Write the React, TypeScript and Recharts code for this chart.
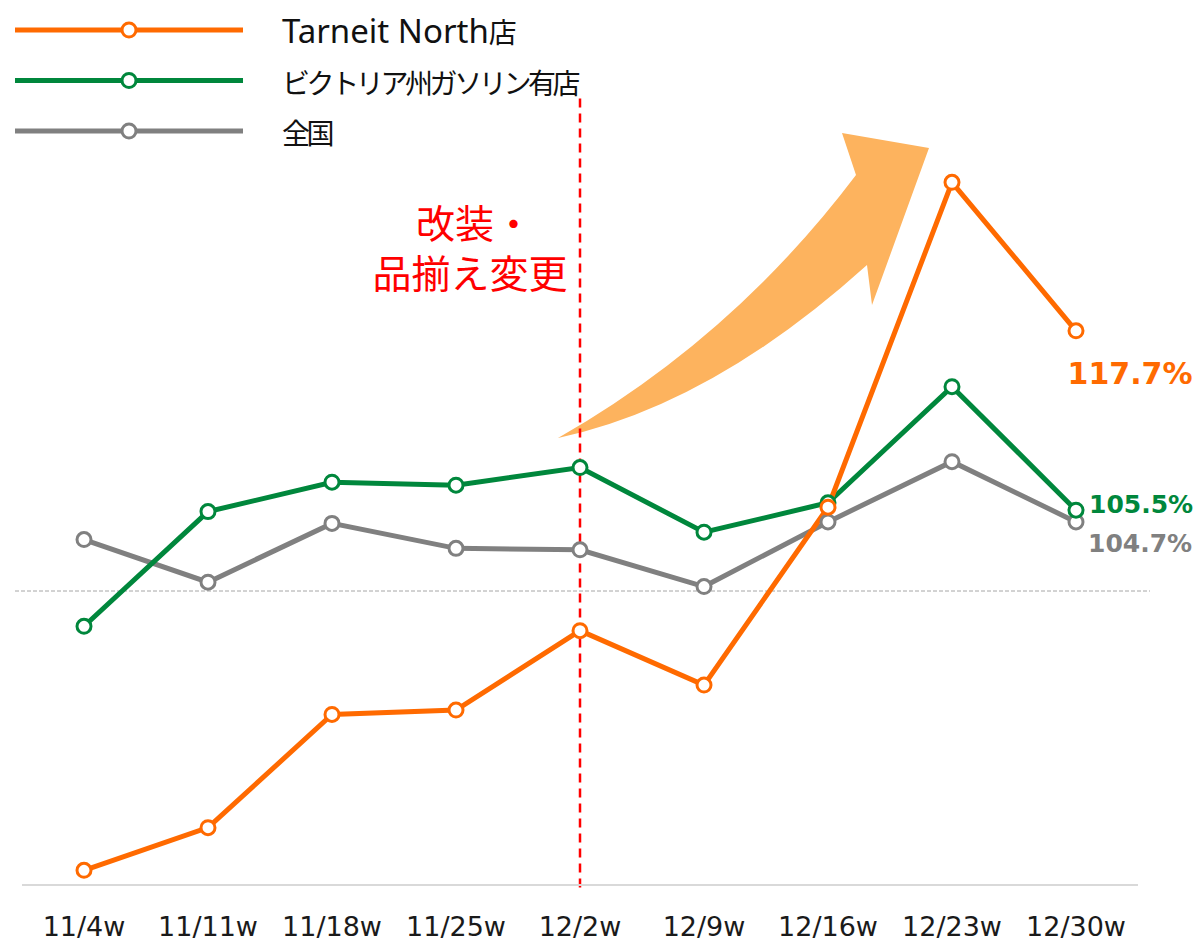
import React from 'react'
import {
  LineChart,
  Line,
  XAxis,
  YAxis,
  ReferenceLine,
  Legend,
  LabelList,
  Customized,
} from 'recharts'

const weeks = ['11/4w', '11/11w', '11/18w', '11/25w', '12/2w', '12/9w', '12/16w', '12/23w', '12/30w']
const tarneit = [81.0, 83.9, 91.6, 91.9, 97.3, 93.6, 105.7, 127.8, 117.7]
const victoria = [97.6, 105.4, 107.4, 107.2, 108.4, 104.0, 106.0, 113.9, 105.5]
const national = [103.5, 100.6, 104.6, 102.9, 102.8, 100.3, 104.7, 108.8, 104.7]

const seriesNames = ['Tarneit North店', 'ビクトリア州ガソリン有店', '全国']
const seriesColors = ['#FF6A00', '#00873C', '#808080']
const changeWeek = '12/2w'
const annotation = ['改装・', '品揃え変更']

const data = weeks.map((week, i) => ({
  week,
  tarneit: tarneit[i],
  victoria: victoria[i],
  national: national[i],
}))

const LAST = weeks.length - 1
const CJK = '"Noto Sans CJK JP", "Noto Sans", sans-serif'
const LATIN = '"Noto Sans", sans-serif'
const NUM = '"DejaVu Sans", Verdana, sans-serif'

const endLabel = (color: string, dx: number, dy: number, size: number, anchor: string) =>
  (props: any) => {
    const { x, y, index, value } = props
    if (index !== LAST) return null
    return (
      <text
        x={x + dx}
        y={y + dy}
        fill={color}
        fontSize={size}
        fontWeight="bold"
        fontFamily={NUM}
        textAnchor={anchor as any}
      >
        {Number(value).toFixed(1)}%
      </text>
    )
  }

// split latin / japanese so each gets its own size
const runs = (s: string) => {
  const out: { t: string; cjk: boolean }[] = []
  for (const ch of s) {
    const cjk = ch.charCodeAt(0) > 0x2000
    const last = out[out.length - 1]
    if (last && last.cjk === cjk) last.t += ch
    else out.push({ t: ch, cjk })
  }
  return out
}

const LegendBox = () => (
  <svg width={700} height={160}>
    {seriesNames.map((name, i) => {
      const y = 30 + i * 50.5
      return (
        <g key={name}>
          <line x1={15} x2={243} y1={y} y2={y} stroke={seriesColors[i]} strokeWidth={5} />
          <circle cx={129} cy={y} r={7} fill="#fff" stroke={seriesColors[i]} strokeWidth={3} />
          <text x={282} y={y + 13} fill="#111">
            {runs(name).map((r, k) =>
              r.cjk ? (
                <tspan key={k} fontFamily={CJK} fontSize={28} letterSpacing={-3.4}>
                  {r.t}
                </tspan>
              ) : (
                <tspan key={k} fontFamily={LATIN} fontSize={33}>
                  {r.t}
                </tspan>
              )
            )}
          </text>
        </g>
      )
    })}
  </svg>
)

// big orange arrow + red note, just decoration
const Decor = () => (
  <g>
    <path
      d="M558,438 Q733,338 856,175 L842,133 L929,148 L872,305 L867,265 Q712,405 558,438 Z"
      fill="#FDB35E"
    />
    <text fontSize={39} fill="#FF0000" fontFamily={CJK}>
      <tspan x={416} y={238}>
        {annotation[0]}
      </tspan>
      <tspan x={470} y={288} textAnchor="middle">
        {annotation[1]}
      </tspan>
    </text>
  </g>
)

const WideDash = (p: any) => (
  <line
    x1={p.x1 - 7}
    x2={p.x2 + 12}
    y1={p.y1}
    y2={p.y2}
    stroke="#A6A6A6"
    strokeWidth={1}
    strokeDasharray="4 2"
  />
)

export default function App() {
  return (
    <div style={{ position: 'absolute', left: 0, top: 0, background: '#fff' }}>
      <LineChart
        width={1203}
        height={945}
        data={data}
        margin={{ top: 150, right: 65, bottom: 0, left: 22 }}
      >
        <XAxis
          dataKey="week"
          interval={0}
          height={60}
          padding={{ left: 62, right: 62 }}
          axisLine={{ stroke: '#D9D9D9', strokeWidth: 2 }}
          tickLine={false}
          tickSize={0}
          tickMargin={32}
          tick={{ fontSize: 27, fill: '#1a1a1a', fontFamily: NUM }}
        />
        <YAxis hide domain={[80, 130]} />
        <Customized component={Decor} />
        <ReferenceLine y={100} shape={WideDash} />
        <ReferenceLine
          ifOverflow="visible"
          segment={[
            { x: changeWeek, y: 133.5 },
            { x: changeWeek, y: 79.6 },
          ]}
          stroke="#FF0000"
          strokeWidth={2.5}
          strokeDasharray="9 6"
        />
        <Legend
          layout="vertical"
          align="center"
          verticalAlign="middle"
          wrapperStyle={{ top: 0, left: 0, width: 700, height: 160 }}
          content={<LegendBox />}
        />
        <Line
          dataKey="national"
          name={seriesNames[2]}
          stroke={seriesColors[2]}
          strokeWidth={5}
          dot={{ r: 7, fill: '#fff', stroke: seriesColors[2], strokeWidth: 3 }}
          isAnimationActive={false}
        >
          <LabelList dataKey="national" content={endLabel(seriesColors[2], 12, 30, 25, 'start')} />
        </Line>
        <Line
          dataKey="victoria"
          name={seriesNames[1]}
          stroke={seriesColors[1]}
          strokeWidth={5}
          dot={{ r: 7, fill: '#fff', stroke: seriesColors[1], strokeWidth: 3 }}
          isAnimationActive={false}
        >
          <LabelList dataKey="victoria" content={endLabel(seriesColors[1], 13, 3, 25, 'start')} />
        </Line>
        <Line
          dataKey="tarneit"
          name={seriesNames[0]}
          stroke={seriesColors[0]}
          strokeWidth={5}
          dot={{ r: 7, fill: '#fff', stroke: seriesColors[0], strokeWidth: 3 }}
          isAnimationActive={false}
        >
          <LabelList dataKey="tarneit" content={endLabel(seriesColors[0], 54, 53, 30, 'middle')} />
        </Line>
      </LineChart>
    </div>
  )
}
